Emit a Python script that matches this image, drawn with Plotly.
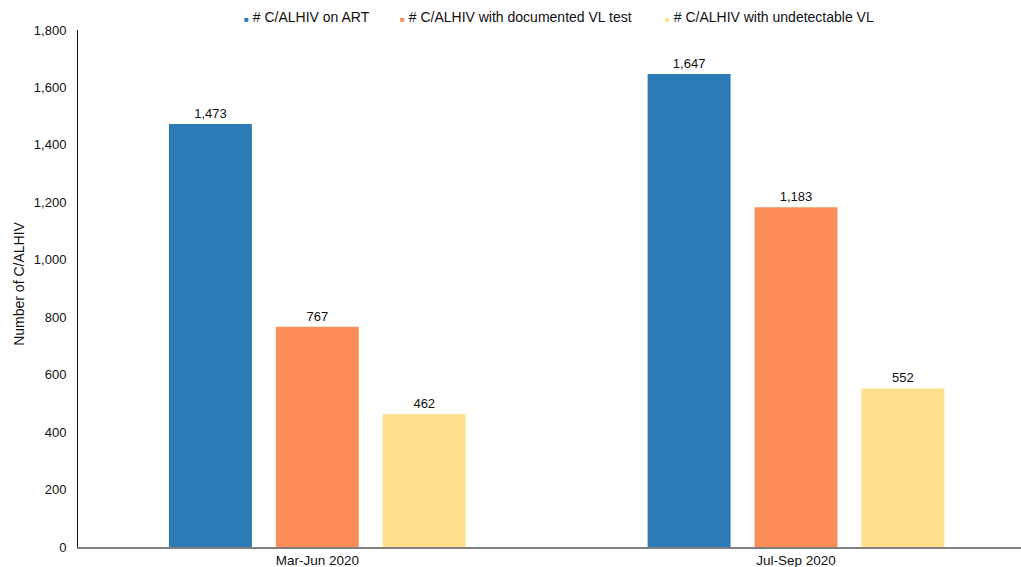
import plotly.graph_objects as go

periods = ["Mar-Jun 2020", "Jul-Sep 2020"]
series_names = [
    "# C/ALHIV on ART",
    "# C/ALHIV with documented VL test",
    "# C/ALHIV with undetectable VL",
]
on_art = [1473, 1647]
vl_tested = [767, 1183]
vl_undetectable = [462, 552]
colors = ["#2c7bb6", "#fc8d59", "#fee08b"]
y_ticks = [0, 200, 400, 600, 800, 1000, 1200, 1400, 1600, 1800]

# left edge of each legend entry, as a fraction of the plot width
legend_x = [0.174, 0.339, 0.620]

font_family = "Liberation Sans, Arial, sans-serif"

fig = go.Figure()
for name, values, color in zip(series_names, [on_art, vl_tested, vl_undetectable], colors):
    fig.add_trace(go.Bar(
        x=[0, 1],
        y=values,
        name=name,
        showlegend=False,
        marker=dict(color=color, line=dict(width=0)),
        text=[f"{v:,}" for v in values],
        textposition="outside",
        textfont=dict(size=13, color="#111111", family=font_family),
        cliponaxis=False,
    ))

# compact legend: small coloured square right next to each series name
annotations = []
for name, color, lx in zip(series_names, colors, legend_x):
    annotations.append(dict(
        xref="paper", yref="paper",
        x=lx, y=1.0,
        xanchor="left", yanchor="bottom",
        yshift=3,
        showarrow=False,
        text=f"<span style='font-size:8px;color:{color}'>■</span> {name}",
        font=dict(size=14, color="#111111", family=font_family),
    ))

# y-axis title
annotations.append(dict(
    xref="paper", yref="paper",
    x=-0.0626, y=0.509,
    xanchor="center", yanchor="middle",
    showarrow=False,
    textangle=-90,
    text="Number of C/ALHIV",
    font=dict(size=14, color="#111111", family=font_family),
))

fig.update_layout(
    width=1021,
    height=567,
    margin=dict(l=78, r=0, t=30, b=20, autoexpand=False),
    paper_bgcolor="white",
    plot_bgcolor="white",
    barmode="group",
    bargap=0.33,
    bargroupgap=0.224,
    font=dict(family=font_family, size=13, color="#111111"),
    showlegend=False,
    annotations=annotations,
)

fig.update_xaxes(
    tickmode="array",
    tickvals=[0, 1],
    ticktext=periods,
    range=[-0.5, 1.47],
    showline=True,
    linecolor="#808080",
    linewidth=2,
    ticks="",
    showgrid=False,
    zeroline=False,
    automargin=False,
    tickfont=dict(size=13.5),
    ticklabelstandoff=0,
)

fig.update_yaxes(
    range=[0, 1800],
    tickmode="array",
    tickvals=y_ticks,
    ticktext=[f"{v:,}" for v in y_ticks],
    showline=True,
    linecolor="#111111",
    linewidth=1,
    showgrid=False,
    zeroline=False,
    automargin=False,
    ticks="",
    tickfont=dict(size=13),
    ticklabelstandoff=8,
)

fig.write_html("out.html")
